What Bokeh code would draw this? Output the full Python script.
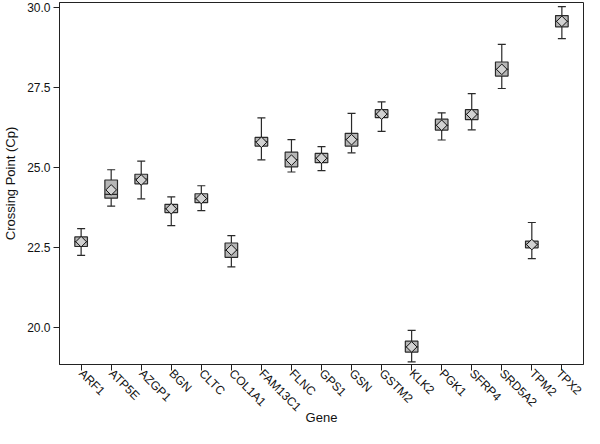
import math
from bokeh.plotting import figure
from bokeh.models import FactorRange, Range1d, FixedTicker, PrintfTickFormatter, ColumnDataSource
from bokeh.embed import file_html
from bokeh.resources import INLINE

genes = ["ARF1", "ATP5E", "AZGP1", "BGN", "CLTC", "COL1A1", "FAM13C1", "FLNC", "GPS1",
         "GSN", "GSTM2", "KLK2", "PGK1", "SFRP4", "SRD5A2", "TPM2", "TPX2"]
whisk_lo = [22.26, 23.80, 24.03, 23.19, 23.66, 21.90, 25.25, 24.87, 24.91, 25.47, 26.14, 18.93, 25.87, 26.19, 27.48, 22.16, 29.04]
q1 = [22.54, 24.05, 24.50, 23.60, 23.91, 22.20, 25.68, 25.03, 25.16, 25.68, 26.57, 19.24, 26.18, 26.51, 27.87, 22.50, 29.41]
median = [22.69, 24.17, 24.65, 23.72, 24.04, 22.42, 25.82, 25.26, 25.30, 25.89, 26.68, 19.40, 26.33, 26.67, 28.08, 22.61, 29.58]
q3 = [22.84, 24.62, 24.80, 23.86, 24.19, 22.65, 25.95, 25.49, 25.45, 26.08, 26.82, 19.58, 26.52, 26.82, 28.31, 22.71, 29.76]
whisk_hi = [23.10, 24.94, 25.21, 24.09, 24.44, 22.88, 26.56, 25.88, 25.66, 26.70, 27.06, 19.92, 26.72, 27.32, 28.86, 23.29, 30.04]
mean = [22.69, 24.31, 24.62, 23.72, 24.04, 22.43, 25.80, 25.24, 25.30, 25.88, 26.68, 19.40, 26.33, 26.67, 28.08, 22.60, 29.58]
y_ticks = [20.0, 22.5, 25.0, 27.5, 30.0]

src = ColumnDataSource(dict(gene=genes, lo=whisk_lo, q1=q1, med=median, q3=q3, hi=whisk_hi, mean=mean))

FONT = "Liberation Sans"
p = figure(width=584, height=428, output_backend="svg", toolbar_location=None,
           x_range=FactorRange(factors=genes, range_padding=0.22, range_padding_units="absolute"),
           y_range=Range1d(18.85, 30.17),
           min_border_left=53, min_border_right=1, min_border_top=2, min_border_bottom=0)
p.xgrid.visible = False
p.ygrid.visible = False
p.outline_line_color = "#222222"
p.outline_line_width = 1

LINE = "#2a2a2a"
p.segment(x0="gene", y0="lo", x1="gene", y1="hi", source=src, line_color=LINE, line_width=1.2)
p.scatter(x="gene", y="lo", source=src, marker="dash", size=8, line_color=LINE, line_width=1.2)
p.scatter(x="gene", y="hi", source=src, marker="dash", size=8, line_color=LINE, line_width=1.2)
p.vbar(x="gene", bottom="q1", top="q3", width=0.42, source=src,
       fill_color="#b6b6b6", line_color=LINE, line_width=1.2)
p.scatter(x="gene", y="med", source=src, marker="dash", size=13, line_color=LINE, line_width=1.2)
p.scatter(x="gene", y="mean", source=src, marker="square", angle=math.pi / 4, size=7.5,
          fill_color="#d2d2d2", line_color="#111111", line_width=1)

p.yaxis.ticker = FixedTicker(ticks=y_ticks)
p.yaxis.formatter = PrintfTickFormatter(format="%.1f")
p.yaxis.minor_tick_line_color = None
for ax in (p.xaxis[0], p.yaxis[0]):
    ax.major_tick_in = 0
    ax.major_tick_out = 6
    ax.axis_line_color = "#222222"
    ax.major_tick_line_color = "#222222"
    ax.major_label_text_font = FONT
    ax.major_label_text_font_size = "12px"
    ax.major_label_text_color = "#111111"
    ax.axis_label_text_font = FONT
    ax.axis_label_text_font_size = "13px"
    ax.axis_label_text_font_style = "normal"
    ax.axis_label_text_color = "#111111"
p.xaxis.major_label_orientation = -math.pi / 4
p.xaxis.axis_label = "Gene"
p.yaxis.axis_label = "Crossing Point (Cp)"
p.yaxis.major_label_standoff = 3
p.xaxis.major_label_standoff = 1
p.xaxis.axis_label_standoff = -12
p.yaxis.axis_label_standoff = 6

open("out.html", "w").write(file_html(p, INLINE))
